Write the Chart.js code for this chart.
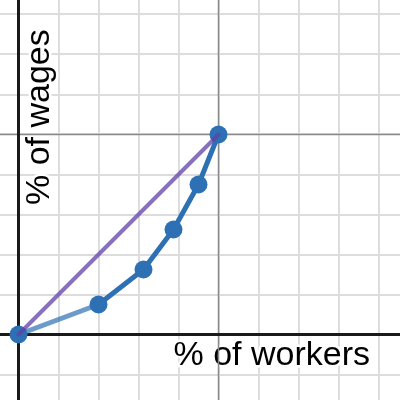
<!DOCTYPE html>
<html>
<head>
<meta charset="utf-8">
<script src="https://cdn.jsdelivr.net/npm/chart.js@4/dist/chart.umd.min.js"></script>
<style>
  html, body { margin: 0; padding: 0; background: #fff; }
  #wrap { width: 400px; height: 400px; }
</style>
</head>
<body>
<div id="wrap"><canvas id="lorenz" width="400" height="400"></canvas></div>
<script>
// share of workers vs share of wages (Lorenz curve)
const workers = [0, 0.4, 0.625, 0.775, 0.9, 1];
const wages = [0, 0.15, 0.325, 0.525, 0.75, 1];
const equality = [[0, 0], [1, 1]];

const xGrid = [0, 0.2, 0.4, 0.6, 0.8, 1, 1.2, 1.4, 1.6, 1.8];
const yGrid = [-0.2, 0, 0.2, 0.4, 0.6, 0.8, 1, 1.2, 1.4, 1.6];

const xLabel = '% of workers';
const yLabel = '% of wages';

const BLUE = '#2d70b3';
const BLUE_LIGHT = 'rgba(45,112,179,0.7)';
const PURPLE = 'rgba(96,66,166,0.75)';
const FONT = '34px "Liberation Sans", Arial, sans-serif';

const gridColor = '#dddddd';

// labels with a white halo, then the axes and the line at 1 on top of the grid
const overlay = {
  id: 'overlay',
  beforeDatasetsDraw(chart) {
    const c = chart.ctx;
    const xs = chart.scales.x, ys = chart.scales.y;
    const x0 = xs.getPixelForValue(0), y0 = ys.getPixelForValue(0);
    const x1 = xs.getPixelForValue(1), y1 = ys.getPixelForValue(1);
    const area = chart.chartArea;

    c.save();
    c.font = FONT;
    c.textBaseline = 'alphabetic';
    c.lineJoin = 'round';
    c.strokeStyle = '#fff';
    c.lineWidth = 5;
    c.fillStyle = '#000';
    c.strokeText(xLabel, x0 + 155, y0 + 30.5);
    c.fillText(xLabel, x0 + 155, y0 + 30.5);

    c.translate(x0 + 30, y0 - 129.5);
    c.rotate(-Math.PI / 2);
    c.strokeText(yLabel, 0, 0);
    c.fillText(yLabel, 0, 0);
    c.restore();

    c.save();
    c.strokeStyle = '#8a8a8a';
    c.lineWidth = 1.5;
    c.beginPath();
    c.moveTo(x1, area.top); c.lineTo(x1, area.bottom);
    c.moveTo(area.left, y1); c.lineTo(area.right, y1);
    c.stroke();

    c.strokeStyle = '#1a1a1a';
    c.lineWidth = 3;
    c.beginPath();
    c.moveTo(x0, area.top); c.lineTo(x0, area.bottom);
    c.moveTo(area.left, y0); c.lineTo(area.right, y0);
    c.stroke();
    c.restore();
  }
};

new Chart(document.getElementById('lorenz'), {
  type: 'scatter',
  data: {
    datasets: [
      {
        data: equality.map(p => ({ x: p[0], y: p[1] })),
        showLine: true,
        borderColor: PURPLE,
        borderWidth: 4,
        borderCapStyle: 'round',
        pointRadius: 0,
        order: 0
      },
      {
        data: workers.map((w, i) => ({ x: w, y: wages[i] })),
        showLine: true,
        borderColor: BLUE,
        borderWidth: 5,
        borderJoinStyle: 'round',
        segment: {
          borderColor: ctx => ctx.p0DataIndex === 0 ? BLUE_LIGHT : BLUE
        },
        pointRadius: 9,
        pointBackgroundColor: BLUE,
        pointBorderWidth: 0,
        order: 1
      }
    ]
  },
  options: {
    responsive: false,
    animation: false,
    layout: { padding: 0, autoPadding: false },
    plugins: { legend: { display: false }, tooltip: { enabled: false } },
    scales: {
      x: {
        type: 'linear',
        min: -0.0925,
        max: 1.9075,
        afterBuildTicks: s => { s.ticks = xGrid.map(v => ({ value: v })); },
        ticks: { display: false },
        border: { display: false },
        grid: { color: gridColor, lineWidth: 2, drawTicks: false }
      },
      y: {
        type: 'linear',
        min: -0.3275,
        max: 1.6725,
        afterBuildTicks: s => { s.ticks = yGrid.map(v => ({ value: v })); },
        ticks: { display: false },
        border: { display: false },
        grid: { color: gridColor, lineWidth: 2, drawTicks: false }
      }
    }
  },
  plugins: [overlay]
});
</script>
</body>
</html>
